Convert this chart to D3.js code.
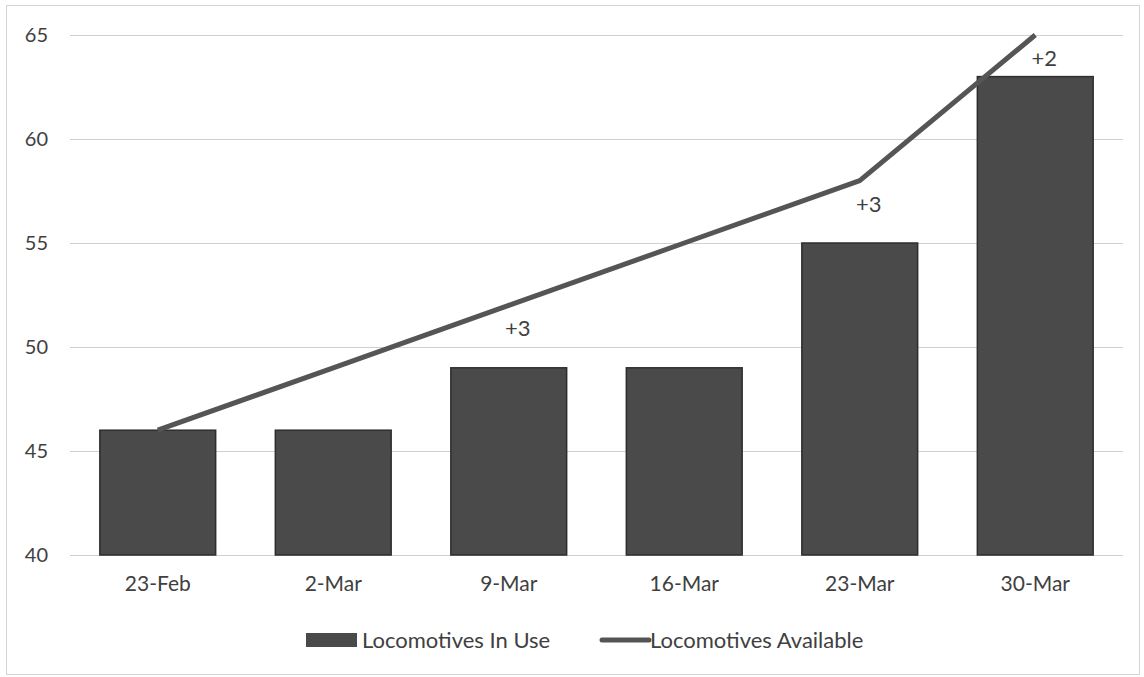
<!DOCTYPE html>
<html>
<head>
<meta charset="utf-8">
<script src="https://cdn.jsdelivr.net/npm/d3@7"></script>
<style>
  html, body { margin: 0; padding: 0; background: #fff; }
  svg { display: block; }
  text { font-family: Lato, "Open Sans", sans-serif; fill: #404040; }
</style>
</head>
<body>
<svg id="chart" width="1144" height="677"></svg>
<script>
// Weekly locomotive counts
const weeks = ["23-Feb", "2-Mar", "9-Mar", "16-Mar", "23-Mar", "30-Mar"];
const inUse = [46, 46, 49, 49, 55, 63];
const available = [46, 49, 52, 55, 58, 65];
// Spare locomotives noted on selected weeks
const spareLabels = ["", "", "+3", "", "+3", "+2"];
const yTicks = [40, 45, 50, 55, 60, 65];

const svg = d3.select("#chart");
const plot = { left: 70, right: 1123, top: 35, bottom: 555 };

// Outer frame
svg.append("rect")
  .attr("x", 6.5).attr("y", 5.5)
  .attr("width", 1133).attr("height", 669)
  .attr("fill", "none").attr("stroke", "#d4d4d4").attr("stroke-width", 1);

const x = d3.scaleBand().domain(weeks).range([plot.left, plot.right]).paddingInner(0.34).paddingOuter(0.17);
const y = d3.scaleLinear().domain([40, 65]).range([plot.bottom, plot.top]);

// Horizontal gridlines
svg.append("g").selectAll("line").data(yTicks).join("line")
  .attr("x1", plot.left).attr("x2", plot.right)
  .attr("y1", d => y(d) + 0.5).attr("y2", d => y(d) + 0.5)
  .attr("stroke", "#d0d0d0").attr("stroke-width", 1);

// Y axis labels
const yAxis = d3.axisLeft(y).tickValues(yTicks).tickSize(0).tickPadding(0);
svg.append("g")
  .attr("transform", `translate(${plot.left - 22},0)`)
  .call(yAxis)
  .call(g => g.select(".domain").remove())
  .call(g => g.selectAll("text").attr("font-size", 20).attr("fill", "#404040").style("font-family", "Lato, sans-serif"));

// Bars
svg.append("g").selectAll("rect").data(weeks).join("rect")
  .attr("x", d => x(d))
  .attr("y", (d, i) => y(inUse[i]))
  .attr("width", x.bandwidth())
  .attr("height", (d, i) => y(40) - y(inUse[i]))
  .attr("fill", "#4a4a4a")
  .attr("stroke", "#2e2e2e").attr("stroke-width", 1.5);

// X axis labels
const xAxis = d3.axisBottom(x).tickSize(0).tickPadding(0);
svg.append("g")
  .attr("transform", `translate(0,${plot.bottom + 21})`)
  .call(xAxis)
  .call(g => g.select(".domain").remove())
  .call(g => g.selectAll("text").attr("font-size", 21).attr("fill", "#404040").style("font-family", "Lato, sans-serif"));

// Availability line
const cx = d => x(d) + x.bandwidth() / 2;
const line = d3.line().x((d, i) => cx(weeks[i])).y(d => y(d));
svg.append("path")
  .datum(available)
  .attr("d", line)
  .attr("fill", "none")
  .attr("stroke", "#555555")
  .attr("stroke-width", 5)
  .attr("stroke-linejoin", "round");

// Spare-count notes
svg.append("g").selectAll("text").data(weeks).join("text")
  .attr("x", d => cx(d) + 9)
  .attr("y", (d, i) => y(available[i]) + 31)
  .attr("text-anchor", "middle")
  .attr("font-size", 22)
  .text((d, i) => spareLabels[i]);

// Legend
const lg = svg.append("g");
lg.append("rect").attr("x", 306).attr("y", 633).attr("width", 51).attr("height", 14).attr("fill", "#4a4a4a");
lg.append("text").attr("x", 362).attr("y", 648).attr("font-size", 22).text("Locomotives In Use");
lg.append("line").attr("x1", 602).attr("x2", 649).attr("y1", 640).attr("y2", 640)
  .attr("stroke", "#555555").attr("stroke-width", 5).attr("stroke-linecap", "round");
lg.append("text").attr("x", 650).attr("y", 648).attr("font-size", 22).text("Locomotives Available");
</script>
</body>
</html>
